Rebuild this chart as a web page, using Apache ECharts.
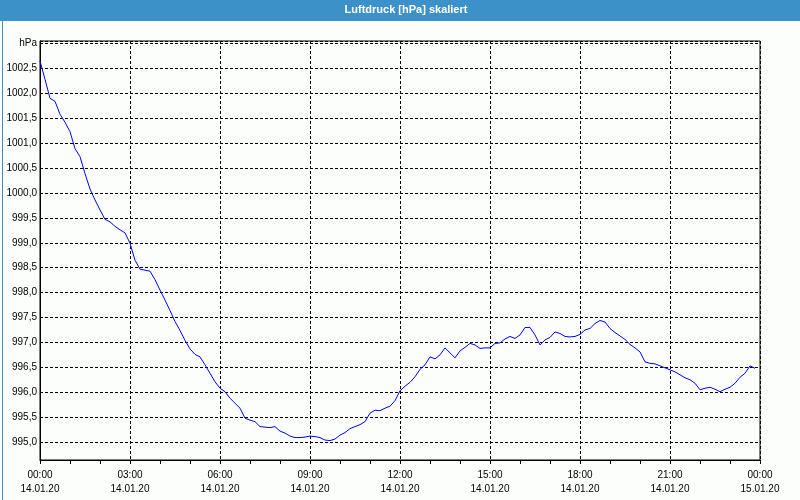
<!DOCTYPE html>
<html>
<head>
<meta charset="utf-8">
<script src="https://cdn.jsdelivr.net/npm/echarts@6/dist/echarts.min.js"></script>
<style>
html,body{margin:0;padding:0;background:#fcfefc;}
#chart{width:800px;height:500px;}
</style>
</head>
<body>
<div id="chart"></div>
<script>
// ---- Data ----
const titleText = 'Luftdruck [hPa] skaliert';
const unitLabel = 'hPa';
const stepMinutes = 10; // measurement spacing, starting 14.01.20 00:00
const pressure = [
  1002.65, 1002.28, 1001.90, 1001.84, 1001.58, 1001.42, 1001.23, 1000.89, 1000.73, 1000.39,
  1000.08, 999.86, 999.66, 999.47, 999.42, 999.33, 999.26, 999.20, 998.99, 998.65,
  998.47, 998.45, 998.43, 998.26, 998.05, 997.85, 997.64, 997.42, 997.24, 997.04,
  996.87, 996.76, 996.71, 996.55, 996.38, 996.21, 996.08, 996.01, 995.88, 995.78,
  995.68, 995.48, 995.44, 995.41, 995.31, 995.30, 995.29, 995.31, 995.22, 995.18,
  995.12, 995.09, 995.09, 995.10, 995.12, 995.11, 995.09, 995.04, 995.03, 995.06,
  995.14, 995.19, 995.27, 995.31, 995.35, 995.41, 995.58, 995.64, 995.63, 995.68,
  995.72, 995.83, 996.03, 996.12, 996.20, 996.31, 996.46, 996.55, 996.71, 996.67,
  996.75, 996.89, 996.79, 996.69, 996.83, 996.90, 996.98, 996.95, 996.88, 996.89,
  996.89, 996.98, 996.99, 997.07, 997.12, 997.08, 997.15, 997.30, 997.30, 997.15,
  996.95, 997.05, 997.10, 997.21, 997.18, 997.12, 997.11, 997.12, 997.16, 997.25,
  997.28, 997.38, 997.44, 997.41, 997.28, 997.20, 997.13, 997.06, 996.96, 996.89,
  996.81, 996.61, 996.58, 996.57, 996.53, 996.49, 996.45, 996.41, 996.35, 996.29,
  996.25, 996.18, 996.05, 996.08, 996.10, 996.06, 996.01, 996.06, 996.10, 996.18,
  996.30, 996.38, 996.53, 996.48
];
const xTickLabels = [
  '00:00\n14.01.20', '03:00\n14.01.20', '06:00\n14.01.20', '09:00\n14.01.20',
  '12:00\n14.01.20', '15:00\n14.01.20', '18:00\n14.01.20', '21:00\n14.01.20',
  '00:00\n15.01.20'
];
const yMin = 994.64, yMax = 1003.05, yTop = 1003;

// ---- Build series data ----
const seriesData = pressure.map((v, i) => [i * stepMinutes / 60, v]);

const chart = echarts.init(document.getElementById('chart'), null, {renderer: 'canvas'});
const font = 'Liberation Sans';
chart.setOption({
  animation: false,
  backgroundColor: '#fcfefc',
  textStyle: {fontFamily: font},
  graphic: [
    {type: 'rect', left: 0, top: 0, shape: {x: 0, y: 0, width: 800, height: 21}, style: {fill: '#3d91c9'}, z: 10},
    {type: 'rect', left: 0, top: 0, shape: {x: 0.5, y: 0.5, width: 799, height: 499}, style: {fill: null, stroke: '#3d91c9', lineWidth: 1}, z: 10},
    {type: 'text', x: 406, y: 10, style: {text: titleText, fill: '#ffffff', font: 'bold 11px "Liberation Sans"', align: 'center', verticalAlign: 'middle'}, z: 11}
  ],
  grid: {left: 40, top: 41, right: 40, bottom: 40, show: true, borderColor: '#000', borderWidth: 1, backgroundColor: 'transparent', containLabel: false},
  xAxis: {
    type: 'value', min: 0, max: 24, interval: 3,
    axisLine: {show: true, lineStyle: {color: '#000', width: 1}},
    axisTick: {show: true, inside: false, length: 4, lineStyle: {color: '#000'}},
    minorTick: {show: true, splitNumber: 3, length: 4, lineStyle: {color: '#000'}},
    splitLine: {show: true, lineStyle: {color: '#000', type: [3, 2], width: 1}},
    axisLabel: {
      margin: 8, fontSize: 10, lineHeight: 14, color: '#000', fontFamily: font,
      formatter: v => xTickLabels[Math.round(v / 3)] || ''
    }
  },
  yAxis: {
    type: 'value', min: yMin, max: yMax, splitNumber: 17, minInterval: 0.5, maxInterval: 0.5,
    axisLine: {show: true, lineStyle: {color: '#000', width: 1}},
    axisTick: {show: false},
    splitLine: {show: true, lineStyle: {color: '#000', type: [3, 2], width: 1}},
    axisLabel: {
      margin: 3, fontSize: 10, color: '#000', fontFamily: font,
      showMinLabel: false, showMaxLabel: false,
      formatter: v => {
        if (Math.abs(v * 2 - Math.round(v * 2)) > 1e-6) return '';
        if (Math.abs(v - yTop) < 1e-6) return unitLabel;
        return v.toFixed(1).replace('.', ',');
      }
    }
  },
  series: [{
    type: 'line', data: seriesData, showSymbol: false, symbol: 'none',
    lineStyle: {color: '#0000ff', width: 1}, smooth: false, clip: true
  }]
});
</script>
</body>
</html>
